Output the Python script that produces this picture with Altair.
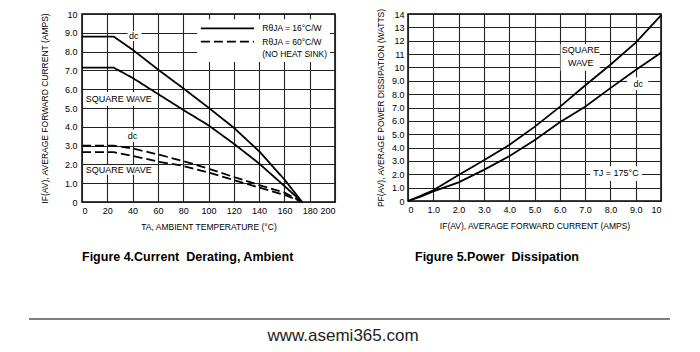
import altair as alt
import pandas as pd

NARROW = "'Liberation Sans Narrow', 'Arial Narrow', 'Liberation Sans', Arial, sans-serif"
REGULAR = "'Liberation Sans', Arial, sans-serif"

# ---------------- Figure 4 data: current derating vs ambient temperature
temp_c = [0, 25, 40, 60, 80, 100, 120, 140, 160, 174]
dc_16 = [8.8, 8.8, 8.1, 7.05, 6.05, 5.02, 3.95, 2.7, 1.2, 0.0]
sq_16 = [7.15, 7.15, 6.6, 5.75, 4.9, 4.08, 3.1, 2.05, 0.85, 0.0]
dc_60 = [3.0, 3.0, 2.85, 2.53, 2.18, 1.77, 1.33, 0.9, 0.5, 0.0]
sq_60 = [2.65, 2.65, 2.45, 2.15, 1.92, 1.57, 1.17, 0.77, 0.38, 0.0]

lab4_text = ["dc", "SQUARE WAVE", "dc", "SQUARE WAVE"]
lab4_x = [41, 29, 40, 29]
lab4_y = [8.85, 5.48, 3.53, 1.72]
box4_x1 = [36, 4, 35, 4]
box4_x2 = [47, 54, 46, 54]
box4_y1 = [9.1, 5.85, 3.85, 1.97]
box4_y2 = [8.56, 5.1, 3.2, 1.45]

legend_box = {"x1": [91], "x2": [196], "y1": [9.72], "y2": [7.45]}
legend_line_x = [94, 136]
legend_line_y = [9.24, 8.53]
legend_sink = ["16", "60"]
legend_text = ["RθJA = 16°C/W", "RθJA = 60°C/W", "(NO HEAT SINK)"]
legend_text_x = [142.5, 142.5, 142.5]
legend_text_y = [9.24, 8.53, 7.85]

# ---------------- Figure 5 data: power dissipation vs forward current
amps = [0, 0.5, 1, 2, 3, 4, 5, 6, 7, 8, 9, 10]
p_square = [0, 0.38, 0.8, 1.95, 3.05, 4.2, 5.55, 7.05, 8.65, 10.2, 11.85, 13.9]
p_dc = [0, 0.33, 0.72, 1.4, 2.33, 3.35, 4.55, 5.9, 7.05, 8.45, 9.8, 11.1]

lab5_text = ["SQUARE", "WAVE", "dc", "TJ = 175°C"]
lab5_x = [6.83, 6.83, 9.1, 8.22]
lab5_y = [11.32, 10.33, 8.75, 2.08]
box5_x1 = [6.03, 8.66, 7.2]
box5_x2 = [7.58, 9.5, 9.25]
box5_y1 = [11.75, 9.25, 2.6]
box5_y2 = [9.75, 8.3, 1.5]

CAPTION4 = "Figure 4.Current\u00a0 Derating, Ambient"
CAPTION5 = "Figure 5.Power\u00a0 Dissipation"
SITE = "www.asemi365.com"

# ---------------- tables
rows = []
for name, sink, vals in [("dc16", "16", dc_16), ("sq16", "16", sq_16),
                         ("dc60", "60", dc_60), ("sq60", "60", sq_60)]:
    for t, v in zip(temp_c, vals):
        rows.append({"T": t, "I": v, "curve": name, "sink": sink})
df4 = pd.DataFrame(rows)
lab4 = pd.DataFrame({"x": lab4_x, "y": lab4_y, "label": lab4_text})
box4 = pd.DataFrame({"x1": box4_x1, "x2": box4_x2, "y1": box4_y1, "y2": box4_y2})
legbox = pd.DataFrame(legend_box)
legline = pd.DataFrame([{"x": x, "y": y, "sink": s}
                        for y, s in zip(legend_line_y, legend_sink) for x in legend_line_x])
legtext = pd.DataFrame({"x": legend_text_x, "y": legend_text_y, "label": legend_text})

rows5 = []
for name, vals in [("square", p_square), ("dc", p_dc)]:
    for a, v in zip(amps, vals):
        rows5.append({"A": a, "P": v, "curve": name})
df5 = pd.DataFrame(rows5)
lab5 = pd.DataFrame({"x": lab5_x, "y": lab5_y, "label": lab5_text})
box5 = pd.DataFrame({"x1": box5_x1, "x2": box5_x2, "y1": box5_y1, "y2": box5_y2})

LABEL_EXPR = ("datum.value == 0 ? '0' : datum.value >= 10 ? format(datum.value, 'd') "
              ": format(datum.value, '.1f')")

ax_common = dict(grid=True, ticks=False, domain=False, labelFont=NARROW, labelFontSize=9,
                 titleFont=NARROW, titleFontSize=8.5, titleFontWeight="normal",
                 labelColor="black", titleColor="black", gridColor="#222",
                 gridWidth=1.1, gridOpacity=1)

X4 = dict(scale=alt.Scale(domain=[0, 200], nice=False, zero=False),
          axis=alt.Axis(values=list(range(0, 201, 20)), title="TA, AMBIENT TEMPERATURE (°C)",
                        labelPadding=4, titlePadding=7, **ax_common))
Y4 = dict(scale=alt.Scale(domain=[0, 10], nice=False, zero=False),
          axis=alt.Axis(values=list(range(0, 11)), labelExpr=LABEL_EXPR,
                        title="IF(AV), AVERAGE FORWARD CURRENT (AMPS)",
                        labelPadding=5, titlePadding=15, **ax_common))
X5 = dict(scale=alt.Scale(domain=[0, 10], nice=False, zero=False),
          axis=alt.Axis(values=list(range(0, 11)), labelExpr=LABEL_EXPR,
                        title="IF(AV), AVERAGE FORWARD CURRENT (AMPS)",
                        labelPadding=4, titlePadding=7, **ax_common))
Y5 = dict(scale=alt.Scale(domain=[0, 14], nice=False, zero=False),
          axis=alt.Axis(values=list(range(0, 15)), labelExpr=LABEL_EXPR,
                        title="PF(AV), AVERAGE POWER DISSIPATION (WATTS)",
                        labelPadding=4, titlePadding=6, **ax_common))

DASH = alt.StrokeDash("sink:N", scale=alt.Scale(domain=["16", "60"], range=[[1, 0], [9, 4]]),
                      legend=None)

# ---------------- left panel
lines4 = alt.Chart(df4).mark_line(color="black", strokeWidth=1.8).encode(
    x=alt.X("T:Q", **X4), y=alt.Y("I:Q", **Y4), detail="curve:N", strokeDash=DASH)
boxes4 = alt.Chart(box4).mark_rect(color="white").encode(
    x=alt.X("x1:Q", **X4), x2="x2:Q", y=alt.Y("y1:Q", **Y4), y2="y2:Q")
legbg = alt.Chart(legbox).mark_rect(color="white").encode(
    x=alt.X("x1:Q", **X4), x2="x2:Q", y=alt.Y("y1:Q", **Y4), y2="y2:Q")
leglines = alt.Chart(legline).mark_line(color="black", strokeWidth=1.8).encode(
    x=alt.X("x:Q", **X4), y=alt.Y("y:Q", **Y4), detail="sink:N", strokeDash=DASH)
legtexts = alt.Chart(legtext).mark_text(font=NARROW, fontSize=8.5, align="left",
                                        color="black").encode(
    x=alt.X("x:Q", **X4), y=alt.Y("y:Q", **Y4), text="label:N")
texts4 = alt.Chart(lab4).mark_text(font=NARROW, fontSize=9, color="black").encode(
    x=alt.X("x:Q", **X4), y=alt.Y("y:Q", **Y4), text="label:N")
caption4 = alt.Chart(pd.DataFrame({"t": [CAPTION4]})).mark_text(
    font=REGULAR, fontSize=12.5, fontWeight="bold", align="left", color="black").encode(
    text="t:N", x=alt.value(0), y=alt.value(243))
footer_rule = alt.Chart(pd.DataFrame({"k": [0]})).mark_rule(color="#555", strokeWidth=1.5).encode(
    x=alt.value(-53), x2=alt.value(588), y=alt.value(305))
footer_text = alt.Chart(pd.DataFrame({"t": [SITE]})).mark_text(
    font=REGULAR, fontSize=17, color="#222").encode(
    text="t:N", x=alt.value(261), y=alt.value(322))

left = alt.layer(boxes4, legbg, lines4, leglines, legtexts, texts4,
                 caption4, footer_rule, footer_text).properties(width=253, height=188)

# ---------------- right panel
lines5 = alt.Chart(df5).mark_line(color="black", strokeWidth=1.8).encode(
    x=alt.X("A:Q", **X5), y=alt.Y("P:Q", **Y5), detail="curve:N")
boxes5 = alt.Chart(box5).mark_rect(color="white").encode(
    x=alt.X("x1:Q", **X5), x2="x2:Q", y=alt.Y("y1:Q", **Y5), y2="y2:Q")
texts5 = alt.Chart(lab5).mark_text(font=NARROW, fontSize=9, color="black").encode(
    x=alt.X("x:Q", **X5), y=alt.Y("y:Q", **Y5), text="label:N")
caption5 = alt.Chart(pd.DataFrame({"t": [CAPTION5]})).mark_text(
    font=REGULAR, fontSize=12.5, fontWeight="bold", align="left", color="black").encode(
    text="t:N", x=alt.value(7), y=alt.value(243))

right = alt.layer(boxes5, lines5, texts5, caption5).properties(width=253, height=187)

chart = alt.hconcat(left, right, spacing=73, bounds="flush").properties(
    padding={"left": 27, "top": 7, "right": 0, "bottom": 0},
    background="white",
).configure_view(stroke="black", strokeWidth=1.5)

chart.save("out.html", embed_options={"renderer": "svg", "actions": False})
